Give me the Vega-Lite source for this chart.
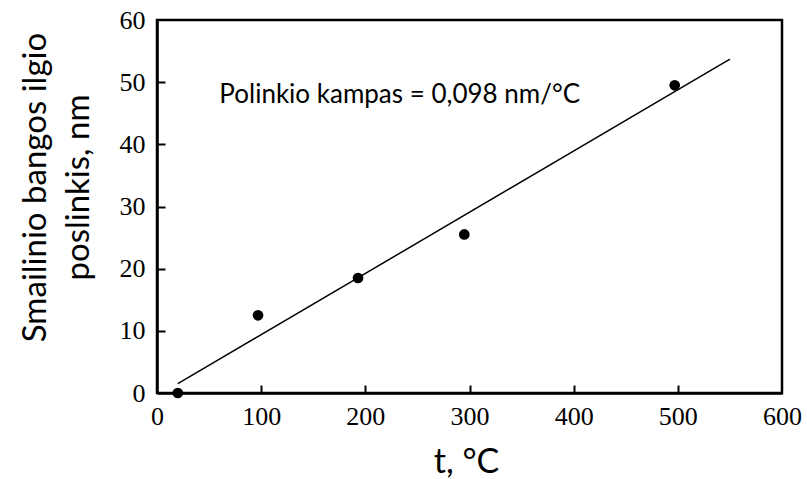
{
  "$schema": "https://vega.github.io/schema/vega-lite/v6.json",
  "width": 625,
  "height": 373,
  "autosize": "none",
  "padding": {"left": 157, "top": 20, "right": 25, "bottom": 86},
  "background": "white",
  "config": {
    "view": {"stroke": "black", "strokeWidth": 2.5},
    "axis": {
      "domainColor": "black",
      "domainWidth": 2.5,
      "tickColor": "black",
      "tickWidth": 2,
      "grid": false,
      "labelFont": "Liberation Serif",
      "labelFontSize": 26,
      "labelColor": "black",
      "titleFont": "Lato",
      "titleFontWeight": "normal",
      "titleColor": "black"
    }
  },
  "datasets": {
    "points": [
      {"t": 20, "shift": 0},
      {"t": 97, "shift": 12.5},
      {"t": 193, "shift": 18.5},
      {"t": 295, "shift": 25.5},
      {"t": 497, "shift": 49.5}
    ],
    "fit": [
      {"t": 20, "shift": 1.5},
      {"t": 550, "shift": 53.7}
    ],
    "note": [
      {"t": 233, "shift": 47.9, "label": "Polinkio kampas  = 0,098 nm/°C"}
    ]
  },
  "resolve": {"axis": {"x": "independent", "y": "independent"}},
  "layer": [
    {
      "data": {"name": "fit"},
      "mark": {"type": "line", "color": "black", "strokeWidth": 1.5},
      "encoding": {
        "x": {
          "field": "t", "type": "quantitative",
          "scale": {"domain": [0, 600], "nice": false, "zero": false},
          "axis": {
            "values": [0, 100, 200, 300, 400, 500, 600],
            "ticks": false,
            "title": "t, °C",
            "titleFontSize": 34,
            "titleX": 309,
            "titleY": 79,
            "titleBaseline": "alphabetic",
            "titleAlign": "center",
            "labelPadding": 10,
            "labelFlush": false
          }
        },
        "y": {
          "field": "shift", "type": "quantitative",
          "scale": {"domain": [0, 60], "nice": false},
          "axis": {
            "values": [0, 10, 20, 30, 40, 50, 60],
            "ticks": false,
            "title": ["Smailinio bangos ilgio", "poslinkis, nm"],
            "titleFontSize": 33,
            "titleLineHeight": 43,
            "titleX": -112,
            "titleY": 167,
            "titleAngle": -90,
            "titleBaseline": "alphabetic",
            "titleAlign": "center",
            "labelPadding": 12,
            "labelFlush": false
          }
        }
      }
    },
    {
      "data": {"name": "points"},
      "mark": {"type": "circle", "color": "black", "opacity": 1, "size": 115},
      "encoding": {
        "x": {
          "field": "t", "type": "quantitative",
          "axis": {
            "orient": "top",
            "offset": -373,
            "values": [100, 200, 300, 400, 500],
            "labels": false,
            "domain": false,
            "title": null,
            "ticks": true,
            "tickColor": "black",
            "tickSize": 8
          }
        },
        "y": {
          "field": "shift", "type": "quantitative",
          "axis": {
            "orient": "right",
            "offset": -625,
            "values": [10, 20, 30, 40, 50],
            "labels": false,
            "domain": false,
            "title": null,
            "ticks": true,
            "tickColor": "black",
            "tickSize": 8
          }
        }
      }
    },
    {
      "data": {"name": "note"},
      "mark": {"type": "text", "font": "Lato", "fontSize": 26, "color": "black", "align": "center", "baseline": "middle"},
      "encoding": {
        "x": {"field": "t", "type": "quantitative", "axis": null},
        "y": {"field": "shift", "type": "quantitative", "axis": null},
        "text": {"field": "label"}
      }
    }
  ]
}
